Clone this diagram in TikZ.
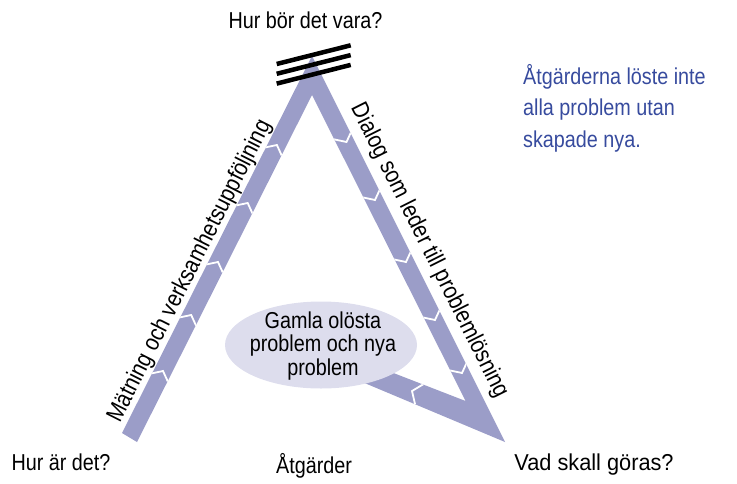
\documentclass[tikz,border=0pt]{standalone}
\usepackage{fontspec}
\usepackage{graphicx}
\usetikzlibrary{shapes.geometric}
\setmainfont{Liberation Sans}[FakeStretch=0.86]
\definecolor{bandcol}{RGB}{155,157,200}
\definecolor{ellcol}{RGB}{221,221,237}
\definecolor{bluetxt}{RGB}{55,75,158}
\begin{document}
\begin{tikzpicture}[x=1pt,y=-1pt,
  txt/.style={font=\fontsize{23}{23.5}\selectfont, inner sep=0pt, anchor=base},
  rtxt/.style={font=\fontsize{24}{24}\selectfont, inner sep=0pt, anchor=base},
  chev/.style={draw=white, line width=1.8pt, line join=miter},
  bar/.style={draw=black, line width=4.5pt}]
\useasboundingbox (0,0) rectangle (737,483);
% band outline
\coordinate (A) at (122,433);
\coordinate (B) at (312,56);
\coordinate (C) at (505,442);
\coordinate (D) at (345,374.8);
\coordinate (E) at (345,354.2);
\coordinate (F) at (465.6,401);
\coordinate (G) at (312,95);
\coordinate (H) at (137,442);
\fill[bandcol] (A) -- (B) -- (C) -- (D) -- (E) -- (F) -- (G) -- (H) -- cycle;
\begin{scope}
  \clip (A) -- (B) -- (C) -- (D) -- (E) -- (F) -- (G) -- (H) -- cycle;
  \foreach \px/\py in {163/371, 191.2/315, 218/262, 247.7/203, 276.9/145}
    \draw[chev, shift={(\px,\py)}, rotate=63.2] (-8,-10) -- (0,0) -- (-8,10);
  \foreach \px/\py in {346.5/142, 375/200, 406/262, 435/320, 462/373}
    \draw[chev, shift={(\px,\py)}, rotate=-63.4] (-8,-10) -- (0,0) -- (-8,10);
  \draw[chev, shift={(412,391)}, rotate=157] (-8,-11) -- (0,0) -- (-8,11);
\end{scope}
% bars at apex
\draw[bar] (276.7,64) -- (350.7,45.3);
\draw[bar] (276.7,73.8) -- (350.7,55.1);
\draw[bar] (276.7,83.6) -- (350.7,64.9);
% ellipse
\node (ell) [ellipse, fill=ellcol, minimum width=192pt, minimum height=87pt, inner sep=0pt] at (321,345) {};
\node (elltext) [txt, anchor=center, align=center] at (323,346) {Gamla olösta\\problem och nya\\problem};
% corner labels
\node (top) [txt] at (305.5,28.3) {Hur bör det vara?};
\node (lefttxt) [txt] at (61,470.7) {Hur är det?};
\node (midtxt) [txt] at (314,473.5) {Åtgärder};
\node (righttxt) [txt] at (594,470.7) {\scalebox{1.1}[1]{Vad skall göras?}};
% band labels
\node (llab) [rtxt, rotate=63.2] at (195.5,274.0) {Mätning och verksamhetsuppföljning};
\node (rlab) [rtxt, rotate=-63.4] at (423.5,253.5) {Dialog som leder till problemlösning};
% blue note
\node (b1) [txt, anchor=base west, text=bluetxt] at (523,84) {Åtgärderna löste inte};
\node (b2) [txt, anchor=base west, text=bluetxt] at (523,115.8) {alla problem utan};
\node (b3) [txt, anchor=base west, text=bluetxt] at (523,147.5) {skapade nya.};
\end{tikzpicture}
\end{document}
